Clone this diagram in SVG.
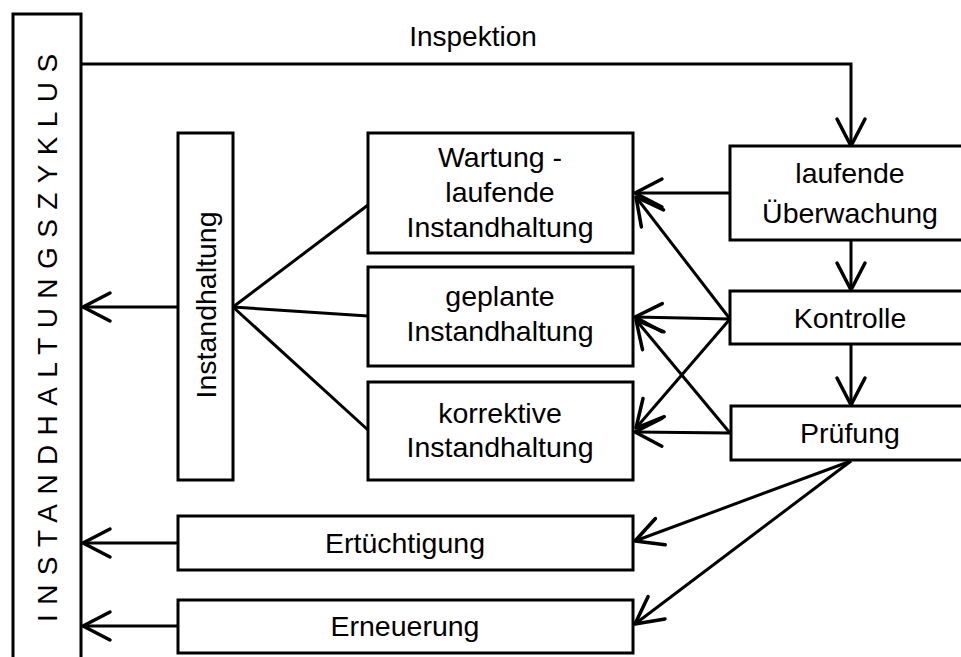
<svg xmlns="http://www.w3.org/2000/svg" width="961" height="657" viewBox="0 0 961 657">
<style>
.box{fill:#fff;stroke:#000;stroke-width:3}
.ln{fill:none;stroke:#000;stroke-width:3}
.t{font-family:"Liberation Sans",Arial,sans-serif;font-size:28.5px;fill:#000;text-anchor:middle}
</style>
<defs>
<marker id="ah" markerUnits="userSpaceOnUse" orient="auto" refX="0" refY="0" viewBox="-30 -17 33 34" markerWidth="33" markerHeight="34" overflow="visible">
<path d="M-27,-14 L0,0 L-27,14" fill="none" stroke="#000" stroke-width="3.5" stroke-linecap="round" stroke-linejoin="round"/>
</marker>
</defs>
<rect width="961" height="657" fill="#fff"/>
<g id="connectors">
<polyline class="ln" points="81,64 851,64 851,146" marker-end="url(#ah)"/>
<line class="ln" x1="730" y1="193" x2="635" y2="193" marker-end="url(#ah)"/>
<line class="ln" x1="851" y1="240" x2="851" y2="290" marker-end="url(#ah)"/>
<line class="ln" x1="851" y1="344" x2="851" y2="405" marker-end="url(#ah)"/>
<line class="ln" x1="730" y1="319" x2="636" y2="197" marker-end="url(#ah)"/>
<line class="ln" x1="730" y1="319" x2="635" y2="317" marker-end="url(#ah)"/>
<line class="ln" x1="730" y1="319" x2="636" y2="428" marker-end="url(#ah)"/>
<line class="ln" x1="730" y1="433" x2="636" y2="320" marker-end="url(#ah)"/>
<line class="ln" x1="730" y1="433" x2="635" y2="432" marker-end="url(#ah)"/>
<line class="ln" x1="851" y1="461" x2="635" y2="541" marker-end="url(#ah)"/>
<line class="ln" x1="851" y1="461" x2="635" y2="624" marker-end="url(#ah)"/>
<line class="ln" x1="178" y1="307" x2="83" y2="307" marker-end="url(#ah)"/>
<line class="ln" x1="178" y1="543" x2="83" y2="543" marker-end="url(#ah)"/>
<line class="ln" x1="178" y1="626" x2="83" y2="626" marker-end="url(#ah)"/>
<line class="ln" x1="233" y1="307" x2="368" y2="205"/>
<line class="ln" x1="233" y1="307" x2="368" y2="316"/>
<line class="ln" x1="233" y1="307" x2="368" y2="430"/>
</g>
<g id="zyklus">
<path class="ln" d="M13,662 V14 H81 V662"/>
<text class="t" style="text-anchor:start;letter-spacing:9.4px;font-size:28px" transform="translate(57,622) rotate(-90)">INSTANDHALTUNGSZYKLUS</text>
</g>
<g id="inspektion-label">
<text class="t" x="473" y="46" style="font-size:28px">Inspektion</text>
</g>
<g id="ueberwachung">
<rect class="box" x="730" y="146" width="245" height="94"/>
<text class="t" x="850" y="183">laufende</text>
<text class="t" x="850" y="223">Überwachung</text>
</g>
<g id="kontrolle">
<rect class="box" x="730" y="291" width="245" height="53"/>
<text class="t" x="850" y="328">Kontrolle</text>
</g>
<g id="pruefung">
<rect class="box" x="731" y="406" width="245" height="54"/>
<text class="t" x="850" y="443">Prüfung</text>
</g>
<g id="wartung">
<rect class="box" x="368" y="133" width="265" height="120"/>
<text class="t" x="500" y="167">Wartung -</text>
<text class="t" x="500" y="202">laufende</text>
<text class="t" x="500" y="237">Instandhaltung</text>
</g>
<g id="geplante">
<rect class="box" x="368" y="267" width="265" height="99"/>
<text class="t" x="500" y="306">geplante</text>
<text class="t" x="500" y="341">Instandhaltung</text>
</g>
<g id="korrektive">
<rect class="box" x="368" y="382" width="265" height="98"/>
<text class="t" x="500" y="423">korrektive</text>
<text class="t" x="500" y="457">Instandhaltung</text>
</g>
<g id="instandhaltung">
<rect class="box" x="178" y="133" width="55" height="347"/>
<text class="t" transform="translate(216,305) rotate(-90)">Instandhaltung</text>
</g>
<g id="ertuechtigung">
<rect class="box" x="178" y="516" width="455" height="54"/>
<text class="t" x="405" y="553">Ertüchtigung</text>
</g>
<g id="erneuerung">
<rect class="box" x="178" y="600" width="455" height="53"/>
<text class="t" x="405" y="636">Erneuerung</text>
</g>
</svg>
